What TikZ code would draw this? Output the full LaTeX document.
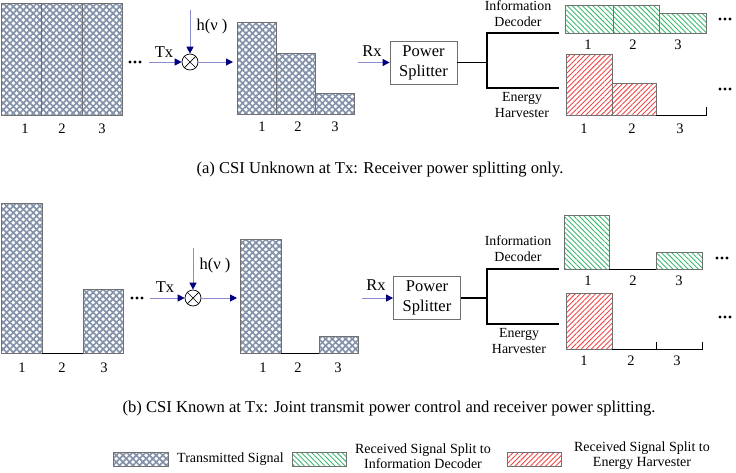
\documentclass[tikz,border=0pt]{standalone}
\usepackage{fontspec}
\setmainfont{Liberation Serif}
\usetikzlibrary{patterns.meta,arrows.meta}
\definecolor{xgrey}{HTML}{8392AA}
\definecolor{hgreen}{HTML}{3DB870}
\definecolor{hred}{HTML}{F04848}
\definecolor{arrshaft}{HTML}{8C8CD0}
\definecolor{arrhead}{HTML}{00007F}
\definecolor{barline}{HTML}{707070}
\tikzset{
 txbar/.style={draw=barline, line width=0.7pt,
   preaction={fill=white},
   preaction={pattern={Lines[angle=45,distance=4.7pt,line width=1.7pt]}, pattern color=xgrey},
   preaction={pattern={Lines[angle=-45,distance=4.7pt,line width=1.7pt]}, pattern color=xgrey}},
 greenbar/.style={draw=barline, line width=0.7pt,
   preaction={pattern={Lines[angle=-45,distance=3.6pt,line width=0.9pt]}, pattern color=hgreen}},
 redbar/.style={draw=barline, line width=0.7pt,
   preaction={pattern={Lines[angle=45,distance=3.6pt,line width=0.9pt]}, pattern color=hred}},
 base/.style={draw=black, line width=0.8pt},
 branch/.style={draw=black, line width=1.1pt},
 sig/.style={draw=arrshaft, line width=1pt, -{Triangle[length=7pt,width=7pt,color=arrhead]}},
 mult/.style={circle, draw=black, line width=0.7pt, minimum size=16pt, inner sep=0pt},
 splitter/.style={draw=barline, line width=0.8pt, minimum width=67pt, minimum height=43pt, align=center, inner sep=0pt, font=\fontsize{16.5}{20}\selectfont},
 num/.style={inner sep=0pt, font=\fontsize{14.5}{16}\selectfont},
 lab/.style={inner sep=0pt, font=\fontsize{16.5}{20}\selectfont},
 side/.style={inner sep=0pt, align=center, font=\fontsize{13.9}{16}\selectfont},
 capt/.style={inner sep=0pt, anchor=base, font=\fontsize{16.6}{19}\selectfont},
 leg/.style={inner sep=0pt, align=center, font=\fontsize{14}{15}\selectfont},
 dotsty/.style={fill=black}
}
\newcommand{\mydots}[2]{\fill[dotsty] (#1-5,#2) circle (1.6) (#1,#2) circle (1.6) (#1+5,#2) circle (1.6);}
\begin{document}
\begin{tikzpicture}[x=1pt,y=-1pt]
\path[use as bounding box] (0,0) rectangle (736,472);

% ===================== (a) =====================
\draw[txbar] (1,3) rectangle (41,115);
\draw[txbar] (41,3) rectangle (82,115);
\draw[txbar] (82,3) rectangle (122,115);
\node[num] at (25,129) {1};
\node[num] at (62,129) {2};
\node[num] at (102,129) {3};
\mydots{135}{62}

\coordinate (ta1) at (149,62);
\node[mult] (m1) at (190,62) {};
\draw[line width=0.7pt] (m1.north west) -- (m1.south east) (m1.north east) -- (m1.south west);
\coordinate (h1) at (190,10);
\coordinate (ra1) at (233,62);
\draw[sig] (ta1) -- (m1.west);
\draw[sig] (h1) -- (m1.north);
\draw[sig] (m1.east) -- (ra1);
\node[lab] at (164,52) {Tx};
\node[lab] at (212,27) {h(ν )};

\draw[txbar] (237,22) rectangle (276.5,114);
\draw[txbar] (276.5,53) rectangle (315,114);
\draw[txbar] (315,93) rectangle (354,114);
\node[num] at (262,127) {1};
\node[num] at (298,127) {2};
\node[num] at (335,127) {3};

\node[splitter] (ps1) at (423.5,62.5) {Power\\Splitter};
\coordinate (rx1) at (358,62.5);
\draw[sig] (rx1) -- (ps1.west);
\node[lab] at (372,51) {Rx};
\coordinate (j1) at (487,62.5);
\coordinate (j1t) at (487,33);
\coordinate (j1b) at (487,88);
\coordinate (id1) at (559,33);
\coordinate (eh1) at (559,88);
\draw[branch] (ps1.east) -- (j1);
\draw[branch] (id1) -- (j1t) -- (j1b) -- (eh1);
\node[side] at (518,14) {Information\\Decoder};
\node[side] at (522,105) {Energy\\Harvester};

\draw[greenbar] (565,5) rectangle (613,33);
\draw[greenbar] (613,5) rectangle (659,33);
\draw[greenbar] (659,13) rectangle (706,33);
\node[num] at (588,45) {1};
\node[num] at (633,45) {2};
\node[num] at (678,45) {3};
\mydots{725}{19}

\draw[redbar] (566,54) rectangle (612,115);
\draw[redbar] (612,83) rectangle (656,115);
\draw[base] (656,115) -- (706,115) -- (706,107);
\node[num] at (584,129) {1};
\node[num] at (632,129) {2};
\node[num] at (680,129) {3};
\mydots{725}{89}

\node[capt] at (380,173) {(a) CSI Unknown at Tx: Receiver power splitting only.};

% ===================== (b) =====================
\draw[txbar] (1,203) rectangle (42,353);
\draw[base] (42,353) -- (83,353);
\draw[txbar] (83,289) rectangle (123,353);
\node[num] at (22,368) {1};
\node[num] at (62,368) {2};
\node[num] at (104,368) {3};
\mydots{137}{298}

\coordinate (ta2) at (150,298);
\node[mult] (m2) at (193,298) {};
\draw[line width=0.7pt] (m2.north west) -- (m2.south east) (m2.north east) -- (m2.south west);
\coordinate (h2) at (193,248);
\coordinate (ra2) at (237,298);
\draw[sig] (ta2) -- (m2.west);
\draw[sig] (h2) -- (m2.north);
\draw[sig] (m2.east) -- (ra2);
\node[lab] at (165,287) {Tx};
\node[lab] at (215,266) {h(ν )};

\draw[txbar] (240,239) rectangle (281,353);
\draw[base] (281,353) -- (319,353);
\draw[txbar] (319,336) rectangle (358,353);
\node[num] at (263,368) {1};
\node[num] at (298,368) {2};
\node[num] at (338,368) {3};

\node[splitter] (ps2) at (427,298) {Power\\Splitter};
\coordinate (rx2) at (362,298);
\draw[sig] (rx2) -- (ps2.west);
\node[lab] at (376,285) {Rx};
\coordinate (j2) at (487,298);
\coordinate (j2t) at (487,269);
\coordinate (j2b) at (487,324);
\coordinate (id2) at (559,269);
\coordinate (eh2) at (559,324);
\draw[branch] (ps2.east) -- (j2);
\draw[branch] (id2) -- (j2t) -- (j2b) -- (eh2);
\node[side] at (518,249) {Information\\Decoder};
\node[side] at (519,341.5) {Energy\\Harvester};

\draw[greenbar] (564,215) rectangle (609,269);
\draw[base] (609,269) -- (656,269);
\draw[greenbar] (656,252) rectangle (702,269);
\node[num] at (588,281) {1};
\node[num] at (633,281) {2};
\node[num] at (679,281) {3};
\mydots{722}{258}

\draw[redbar] (566,293) rectangle (612,349);
\draw[base] (612,349) -- (702,349) -- (702,341.5);
\draw[base] (656,349) -- (656,341.5);
\node[num] at (584,361) {1};
\node[num] at (631,361) {2};
\node[num] at (677,361) {3};
\mydots{725}{317}

\node[capt] at (389,412) {(b) CSI Known at Tx: Joint transmit power control and receiver power splitting.};

% ===================== legend =====================
\draw[txbar] (113,452) rectangle (168,466);
\node[leg, anchor=west] at (177,459) {Transmitted Signal};
\draw[greenbar] (292,452) rectangle (346,466);
\node[leg] at (423,456) {Received Signal Split to\\Information Decoder};
\draw[redbar] (507,452) rectangle (561,466);
\node[leg] at (642,456) {Received Signal Split to\\Energy Harvester};
\end{tikzpicture}
\end{document}
